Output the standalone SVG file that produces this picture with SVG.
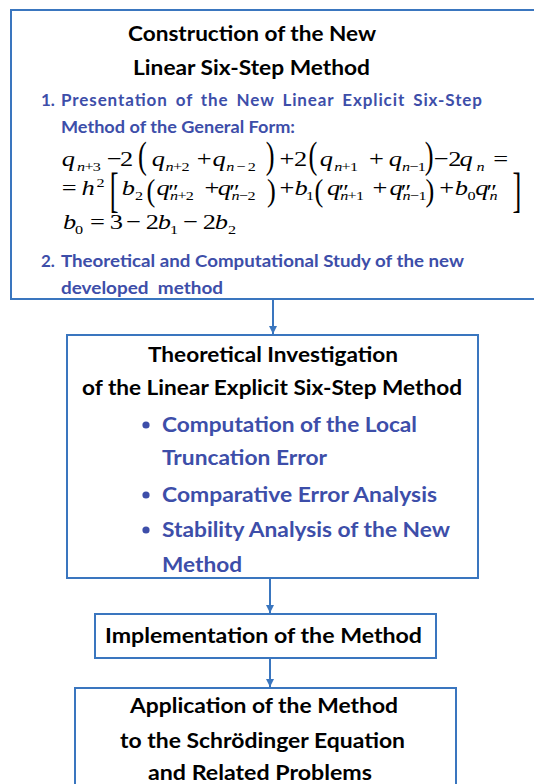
<svg xmlns="http://www.w3.org/2000/svg" width="534" height="784" viewBox="0 0 534 784">
  <style>
    .box { fill: #ffffff; stroke: #3a76bf; stroke-width: 2; }
    .conn { stroke: #3a76bf; stroke-width: 2; fill: none; }
    .ttl { font-family: Lato, "Liberation Sans", sans-serif; font-weight: bold; font-size: 21px; fill: #000000; }
    .sub { font-family: Lato, "Liberation Sans", sans-serif; font-weight: bold; font-size: 17px; fill: #3d4ea9; }
    .bul { font-family: Lato, "Liberation Sans", sans-serif; font-weight: bold; font-size: 20.5px; fill: #3d4ea9; }
    .dot { fill: #3d4ea9; }
    .m { font-family: "Liberation Serif", "Times New Roman", serif; font-size: 22px; fill: #000000; }
    .i { font-style: italic; }
    .s { font-size: 13.5px; letter-spacing: -0.6px; }
    .pr { font-size: 21px; }
  </style>
  <defs>
    <marker id="arrow" markerUnits="userSpaceOnUse" markerWidth="9" markerHeight="8" refX="8" refY="4" orient="auto">
      <path d="M0,0 L8,4 L0,8 z" fill="#3a76bf"/>
    </marker>
  </defs>

  <!-- connectors -->
  <g id="connectors">
    <line class="conn" x1="273" y1="300" x2="273" y2="334" marker-end="url(#arrow)"/>
    <line class="conn" x1="270" y1="579" x2="270" y2="613" marker-end="url(#arrow)"/>
    <line class="conn" x1="270" y1="659" x2="270" y2="687" marker-end="url(#arrow)"/>
  </g>

  <!-- construction of the method -->
  <g id="construction">
    <rect class="box" x="11" y="10" width="534" height="289"/>
    <text class="ttl" x="128" y="41" textLength="248" lengthAdjust="spacingAndGlyphs">Construction of the New</text>
    <text class="ttl" x="133" y="75" textLength="237" lengthAdjust="spacingAndGlyphs">Linear Six-Step Method</text>
    <text class="sub" x="41" y="105.5">1.</text>
    <text class="sub" x="61" y="105.5" textLength="421" lengthAdjust="spacing" word-spacing="3">Presentation of the New Linear Explicit Six-Step</text>
    <text class="sub" x="61" y="133" textLength="234" lengthAdjust="spacingAndGlyphs">Method of the General Form:</text>
    <text class="sub" x="41" y="267">2.</text>
    <text class="sub" x="61" y="267" textLength="403" lengthAdjust="spacingAndGlyphs">Theoretical and Computational Study of the new</text>
    <text class="sub" x="61" y="294" textLength="162" lengthAdjust="spacingAndGlyphs" xml:space="preserve">developed  method</text>

    <!-- general form of the six-step method (stretched 1.2x horizontally) -->
    <g id="formula" transform="matrix(1.2 0 0 1 0 0)">
      <!-- line 1 -->
      <text class="m" y="166"><tspan class="i" x="51.5">q</tspan><tspan class="s" x="64.2" y="171.5"><tspan class="i">n</tspan>+3</tspan><tspan x="89" y="166">−</tspan><tspan x="100">2</tspan><tspan class="i" x="126.5">q</tspan><tspan class="s" x="138" y="171.5"><tspan class="i">n</tspan>+2</tspan><tspan x="164" y="166">+</tspan><tspan class="i" x="177">q</tspan><tspan class="s" x="188.5" y="171.5"><tspan class="i">n</tspan><tspan x="197">−</tspan><tspan x="206.5">2</tspan></tspan><tspan x="233" y="166">+</tspan><tspan x="245">2</tspan><tspan class="i" x="266.5">q</tspan><tspan class="s" x="278.5" y="171.5"><tspan class="i">n</tspan>+1</tspan><tspan x="307.5" y="166">+</tspan><tspan class="i" x="324">q</tspan><tspan class="s" x="335" y="171.5"><tspan class="i">n</tspan>−1</tspan><tspan x="361.5" y="166">−</tspan><tspan x="373.5">2</tspan><tspan class="i" x="383">q</tspan><tspan class="s i" x="397" y="171.5">n</tspan><tspan x="411" y="166">=</tspan></text>
      <text class="m" transform="translate(115 168.3) scale(1 1.7)">(</text>
      <text class="m" transform="translate(221.5 168.3) scale(1 1.7)">)</text>
      <text class="m" transform="translate(257 168.3) scale(1 1.7)">(</text>
      <text class="m" transform="translate(354 168.3) scale(1 1.7)">)</text>

      <!-- line 2 -->
      <text class="m" y="195"><tspan x="51.5">=</tspan><tspan class="i" x="68">h</tspan><tspan class="s" x="80.5" y="187">2</tspan><tspan class="i" x="101.5" y="195">b</tspan><tspan class="s" x="112.5" y="200.5">2</tspan><tspan class="i" x="130.5" y="195">q</tspan><tspan class="s" x="141.7" y="200.5"><tspan class="i">n</tspan>+2</tspan><tspan x="170.5" y="195">+</tspan><tspan class="i" x="181.5">q</tspan><tspan class="s" x="193" y="200.5"><tspan class="i">n</tspan>−2</tspan><tspan x="233" y="195">+</tspan><tspan class="i" x="245.5">b</tspan><tspan class="s" x="255" y="200.5">1</tspan><tspan class="i" x="272.5" y="195">q</tspan><tspan class="s" x="283.5" y="200.5"><tspan class="i">n</tspan>+1</tspan><tspan x="310.5" y="195">+</tspan><tspan class="i" x="324.5">q</tspan><tspan class="s" x="335.5" y="200.5"><tspan class="i">n</tspan>−1</tspan><tspan x="366" y="195">+</tspan><tspan class="i" x="379">b</tspan><tspan class="s" x="389.5" y="200.5">0</tspan><tspan class="i" x="396" y="195">q</tspan><tspan class="s i" x="408" y="200.5">n</tspan></text>
      <!-- second-derivative primes above the subscripts -->
      <text class="m pr" y="199"><tspan x="140.3">″</tspan><tspan x="191">″</tspan><tspan x="282">″</tspan><tspan x="334">″</tspan><tspan x="405.5">″</tspan></text>
      <text class="m" transform="translate(91.5 206) scale(1 2.25)">[</text>
      <text class="m" transform="translate(427 206) scale(1 2.25)">]</text>
      <text class="m" transform="translate(122 201.3) scale(1 1.45)">(</text>
      <text class="m" transform="translate(222.5 201.3) scale(1 1.45)">)</text>
      <text class="m" transform="translate(262 201.3) scale(1 1.45)">(</text>
      <text class="m" transform="translate(354.5 201.3) scale(1 1.45)">)</text>

      <!-- line 3 -->
      <text class="m" y="229"><tspan class="i" x="52.5">b</tspan><tspan class="s" x="62.5" y="234.5">0</tspan><tspan x="75" y="229">=</tspan><tspan x="91.5">3</tspan><tspan x="105">−</tspan><tspan x="121.5">2</tspan><tspan class="i" x="131.5">b</tspan><tspan class="s" x="141.7" y="234.5">1</tspan><tspan x="152.5" y="229">−</tspan><tspan x="169">2</tspan><tspan class="i" x="179">b</tspan><tspan class="s" x="190" y="234.5">2</tspan></text>
    </g>
  </g>

  <!-- theoretical investigation -->
  <g id="investigation">
    <rect class="box" x="67" y="335" width="411" height="243"/>
    <text class="ttl" x="148" y="362" textLength="250" lengthAdjust="spacingAndGlyphs">Theoretical Investigation</text>
    <text class="ttl" x="82" y="395" textLength="380" lengthAdjust="spacingAndGlyphs">of the Linear Explicit Six-Step Method</text>
    <circle class="dot" cx="146" cy="425" r="3.6"/>
    <text class="bul" x="162" y="432" textLength="255" lengthAdjust="spacingAndGlyphs">Computation of the Local</text>
    <text class="bul" x="162" y="465" textLength="165" lengthAdjust="spacingAndGlyphs">Truncation Error</text>
    <circle class="dot" cx="146" cy="495" r="3.6"/>
    <text class="bul" x="162" y="502" textLength="275" lengthAdjust="spacingAndGlyphs">Comparative Error Analysis</text>
    <circle class="dot" cx="146" cy="530" r="3.6"/>
    <text class="bul" x="162" y="537" textLength="288" lengthAdjust="spacingAndGlyphs">Stability Analysis of the New</text>
    <text class="bul" x="162" y="572" textLength="80" lengthAdjust="spacingAndGlyphs">Method</text>
  </g>

  <!-- implementation -->
  <g id="implementation">
    <rect class="box" x="95" y="614" width="341" height="44"/>
    <text class="ttl" x="105" y="643" textLength="317" lengthAdjust="spacingAndGlyphs">Implementation of the Method</text>
  </g>

  <!-- application -->
  <g id="application">
    <rect class="box" x="75" y="688" width="381" height="110"/>
    <text class="ttl" x="130" y="713" textLength="268" lengthAdjust="spacingAndGlyphs">Application of the Method</text>
    <text class="ttl" x="120" y="748" textLength="285" lengthAdjust="spacingAndGlyphs">to the Schrödinger Equation</text>
    <text class="ttl" x="148" y="780" textLength="224" lengthAdjust="spacingAndGlyphs">and Related Problems</text>
  </g>
</svg>
